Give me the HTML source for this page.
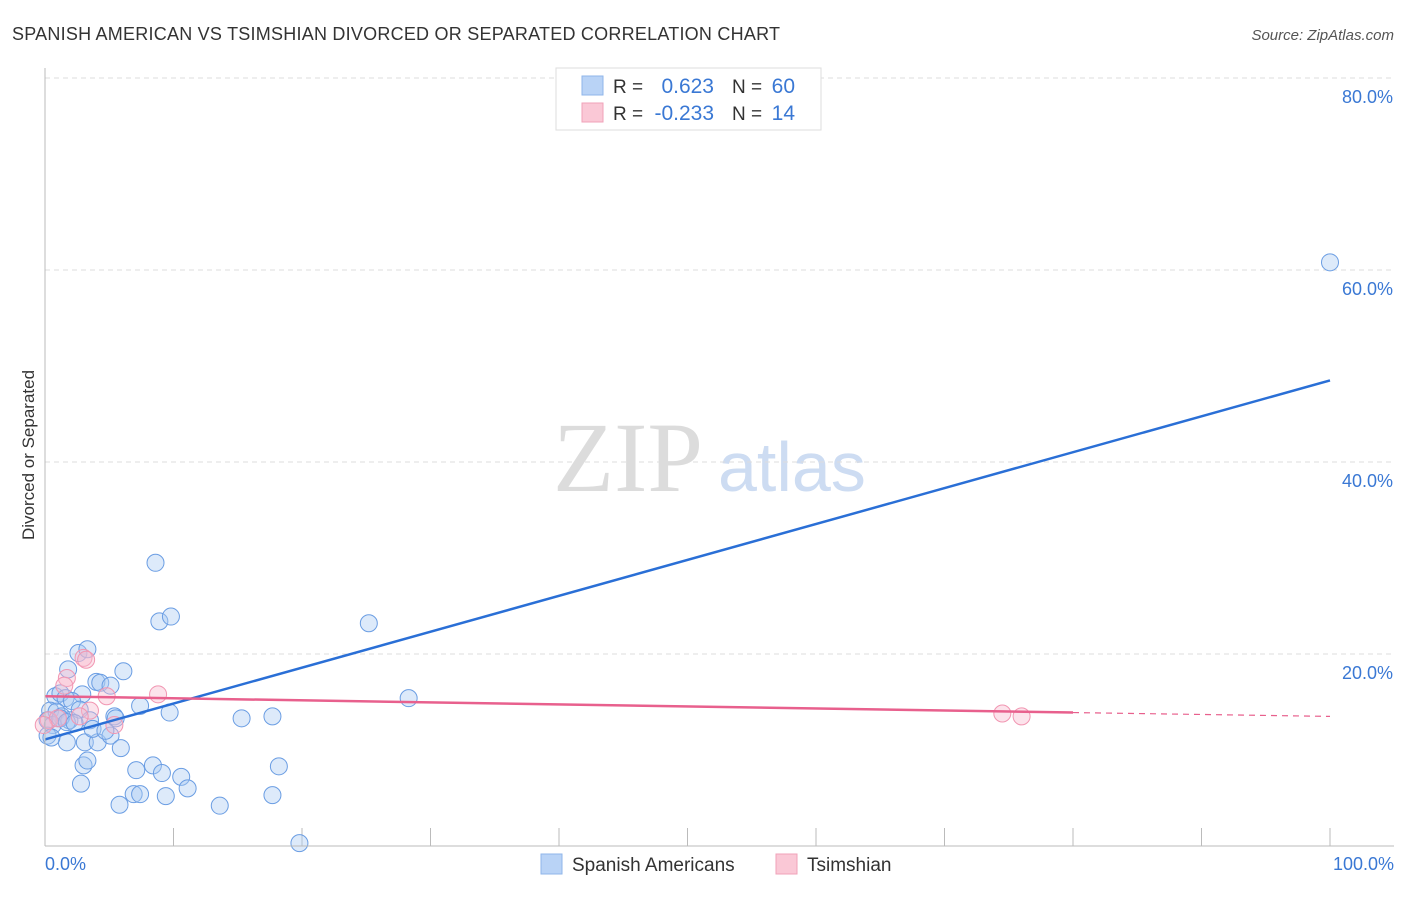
<!DOCTYPE html>
<html><head><meta charset="utf-8"><style>
body{margin:0;background:#fff;font-family:"Liberation Sans",sans-serif;}
svg text{font-family:"Liberation Sans",sans-serif;}
</style></head><body>
<svg id="chart" width="1406" height="892">
<text x="12" y="40" font-size="18" fill="#333" textLength="768">SPANISH AMERICAN VS TSIMSHIAN DIVORCED OR SEPARATED CORRELATION CHART</text>
<text x="1394" y="40" font-size="15" fill="#555" font-style="italic" text-anchor="end">Source: ZipAtlas.com</text>
<text x="34" y="455" font-size="17" fill="#333" text-anchor="middle" transform="rotate(-90 34 455)">Divorced or Separated</text>
<text x="553" y="491" font-size="100" fill="#dcdcdc" style="font-family:'Liberation Serif',serif">ZIP</text>
<text x="718" y="491" font-size="70" fill="#cddcf2">atlas</text>
<g id="grid"></g><g id="pts"></g><g id="lines"></g>
<line x1="45" y1="68" x2="45" y2="846" stroke="#bbb"/>
<line x1="45" y1="846" x2="1394" y2="846" stroke="#bbb"/>
<text x="45" y="870" font-size="18" fill="#3a78d4">0.0%</text>
<text x="1394" y="870" font-size="18" fill="#3a78d4" text-anchor="end">100.0%</text>
<g>
<rect x="556" y="68" width="265" height="62" fill="#fff" stroke="#ddd"/>
<rect x="582" y="76" width="21" height="19" fill="#b9d3f6" stroke="#8fb6ea"/>
<rect x="582" y="103" width="21" height="19" fill="#fac8d6" stroke="#f0a2b8"/>
<text x="613" y="93" font-size="19" fill="#333">R =</text><text x="714" y="93" font-size="21" fill="#3a78d4" text-anchor="end">0.623</text>
<text x="732" y="93" font-size="19" fill="#333">N =</text><text x="795" y="93" font-size="21" fill="#3a78d4" text-anchor="end">60</text>
<text x="613" y="120" font-size="19" fill="#333">R =</text><text x="714" y="120" font-size="21" fill="#3a78d4" text-anchor="end">-0.233</text>
<text x="732" y="120" font-size="19" fill="#333">N =</text><text x="795" y="120" font-size="21" fill="#3a78d4" text-anchor="end">14</text>
</g>
<g>
<rect x="541" y="854" width="21" height="20" fill="#b9d3f6" stroke="#8fb6ea"/>
<text x="572" y="871" font-size="19" fill="#333">Spanish Americans</text>
<rect x="776" y="854" width="21" height="20" fill="#fac8d6" stroke="#f0a2b8"/>
<text x="807" y="871" font-size="19" fill="#333">Tsimshian</text>
</g>
</svg>
<script>
const yTicks=[20,40,60,80];
const xTicks=[10,20,30,40,50,60,70,80,90,100];
const blueX=[8.6,8.9,9.8,25.2,28.3,100,2.6,3.3,1.8,6.1,4.0,4.3,5.1,2.9,15.3,17.7,9.7,5.4,5.5,7.4,0.8,1.2,1.6,2.1,0.4,0.9,1.3,1.9,2.7,3.5,0.2,0.6,1.2,1.7,2.3,3.1,1.7,4.1,5.1,5.9,3.0,3.3,7.1,8.4,9.1,10.6,11.1,2.8,5.8,6.9,7.4,9.4,13.6,17.7,18.2,19.8,0.2,0.5,3.7,4.7];
const blueY=[29.5,23.4,23.9,23.2,15.4,60.8,20.1,20.5,18.4,18.2,17.1,17.0,16.7,15.8,13.3,13.5,13.9,13.5,13.3,14.6,15.6,15.9,15.4,15.1,14.1,14.0,13.5,13.1,14.2,13.1,13.1,12.6,13.3,12.9,12.8,10.8,10.8,10.8,11.5,10.2,8.4,8.9,7.9,8.4,7.6,7.2,6.0,6.5,4.3,5.4,5.4,5.2,4.2,5.3,8.3,0.3,11.5,11.3,12.2,12.0];
const pinkX=[3.0,3.2,1.7,1.5,4.8,8.8,3.5,0.3,1.0,-0.1,2.7,5.4,74.5,76.0];
const pinkY=[19.6,19.4,17.5,16.7,15.6,15.8,14.1,13.1,13.3,12.6,13.5,12.6,13.8,13.5];
const blueFit=[0,11.1,100,48.5];
const pinkFit=[0,15.6,80,13.9,100,13.5];
const X=v=>45+v*12.85, Y=v=>846-v*9.6;
const NS='http://www.w3.org/2000/svg';
function mk(t,a,p){const e=document.createElementNS(NS,t);for(const k in a)e.setAttribute(k,a[k]);p.appendChild(e);return e;}
const grid=document.getElementById('grid'),pts=document.getElementById('pts'),lines=document.getElementById('lines'),svg=document.getElementById('chart');
yTicks.forEach(t=>{
 const l=mk('line',{x1:45,x2:1394,y1:Y(t),y2:Y(t),stroke:'#ddd','stroke-dasharray':'5,4'},grid);
 
 
 const tx=mk('text',{x:1393,y:Y(t)+25,'font-size':18,fill:'#3a78d4','text-anchor':'end'},svg);
 tx.textContent=t.toFixed(1)+'%';
 
 
});
xTicks.forEach(t=>{
 const l=mk('line',{x1:X(t),x2:X(t),y1:828,y2:846,stroke:'#bbb'},grid);
 
 
});
blueX.forEach((v,i)=>{
 const c=mk('circle',{cx:X(v),cy:Y(blueY[i]),r:8.5,fill:'rgba(170,202,242,0.4)',stroke:'#6a9de3','stroke-width':1},pts);
 
 
});
pinkX.forEach((v,i)=>{
 const c=mk('circle',{cx:X(v),cy:Y(pinkY[i]),r:8.5,fill:'rgba(248,185,205,0.4)',stroke:'#f196b2','stroke-width':1},pts);
 
 
});
const bl=mk('line',{x1:X(blueFit[0]),y1:Y(blueFit[1]),x2:X(blueFit[2]),y2:Y(blueFit[3]),stroke:'#2a6fd6','stroke-width':2.5},lines);


const pl=mk('line',{x1:X(pinkFit[0]),y1:Y(pinkFit[1]),x2:X(pinkFit[2]),y2:Y(pinkFit[3]),stroke:'#e8608d','stroke-width':2.5},lines);


const pd=mk('line',{x1:X(pinkFit[2]),y1:Y(pinkFit[3]),x2:X(pinkFit[4]),y2:Y(pinkFit[5]),stroke:'#e8608d','stroke-width':1.2,'stroke-dasharray':'6,5'},lines);


</script>
</body></html>
